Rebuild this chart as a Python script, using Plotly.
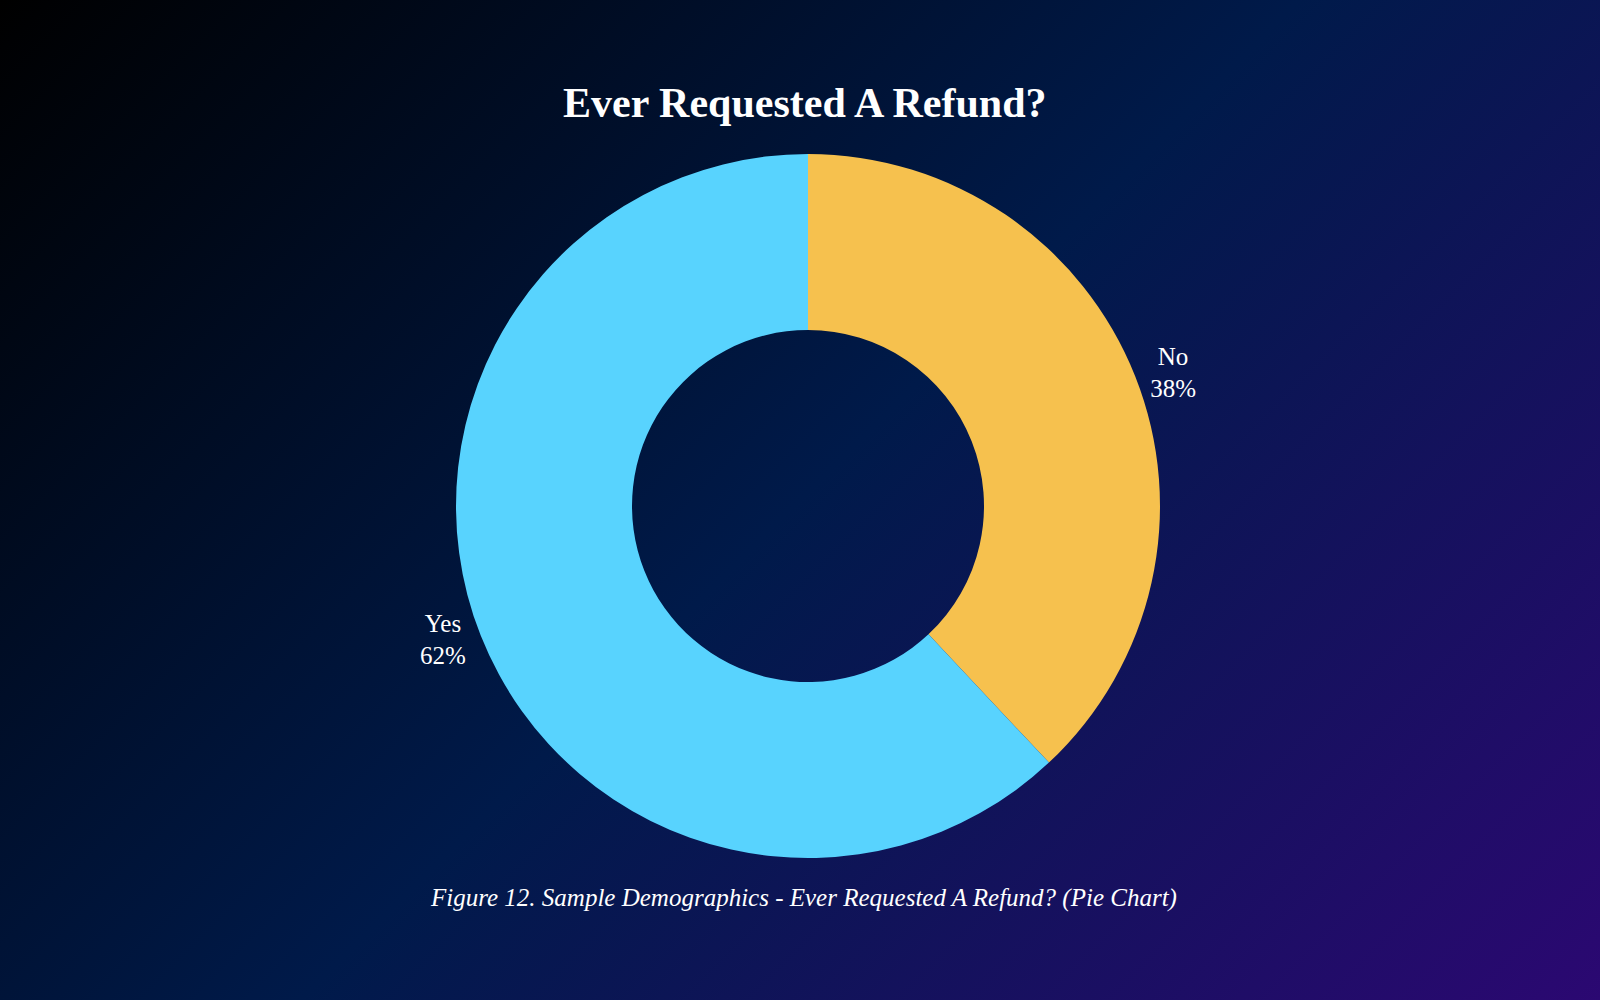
import plotly.graph_objects as go

# data
labels = ['No', 'Yes']
values = [38, 62]
colors = ['#F6C14E', '#58D3FE']

title_text = 'Ever Requested A Refund?'
caption_text = 'Figure 12. Sample Demographics - Ever Requested A Refund? (Pie Chart)'

fig = go.Figure()

fig.add_trace(go.Pie(
    labels=labels,
    values=values,
    hole=0.5,
    sort=False,
    direction='clockwise',
    rotation=0,
    marker=dict(colors=colors, line=dict(width=0)),
    textposition='outside',
    texttemplate='%{label}<br>%{percent:.0%}',
    textfont=dict(family='Liberation Serif', size=25, color='white'),
    domain=dict(x=[0.105, 0.905], y=[0.142, 0.846]),
    automargin=False,
    showlegend=False,
))

fig.update_layout(
    width=1600,
    height=1000,
    autosize=False,
    showlegend=False,
    margin=dict(l=0, r=0, t=0, b=0, pad=0, autoexpand=False),
    paper_bgcolor='rgba(0,0,0,0)',
    plot_bgcolor='rgba(0,0,0,0)',
    font=dict(family='Liberation Serif', color='white'),
    title=dict(text='<b>' + title_text + '</b>', x=0.503, xanchor='center',
               y=0.898, yanchor='middle',
               font=dict(family='Liberation Serif', size=42, color='white')),
    annotations=[dict(text='<i>' + caption_text + '</i>', x=0.502, y=0.102,
                      xref='paper', yref='paper', showarrow=False,
                      xanchor='center', yanchor='middle',
                      font=dict(family='Liberation Serif', size=25, color='white'))],
)

# page background: diagonal gradient behind the transparent figure
page_js = (
    "document.body.style.margin='0';"
    "document.body.style.overflow='hidden';"
    "document.body.style.background="
    "'linear-gradient(135deg, #000000 0%, #001a4a 50%, #2b0872 100%)';"
)

fig.write_html('out.html', config={'displayModeBar': False}, post_script=page_js)
